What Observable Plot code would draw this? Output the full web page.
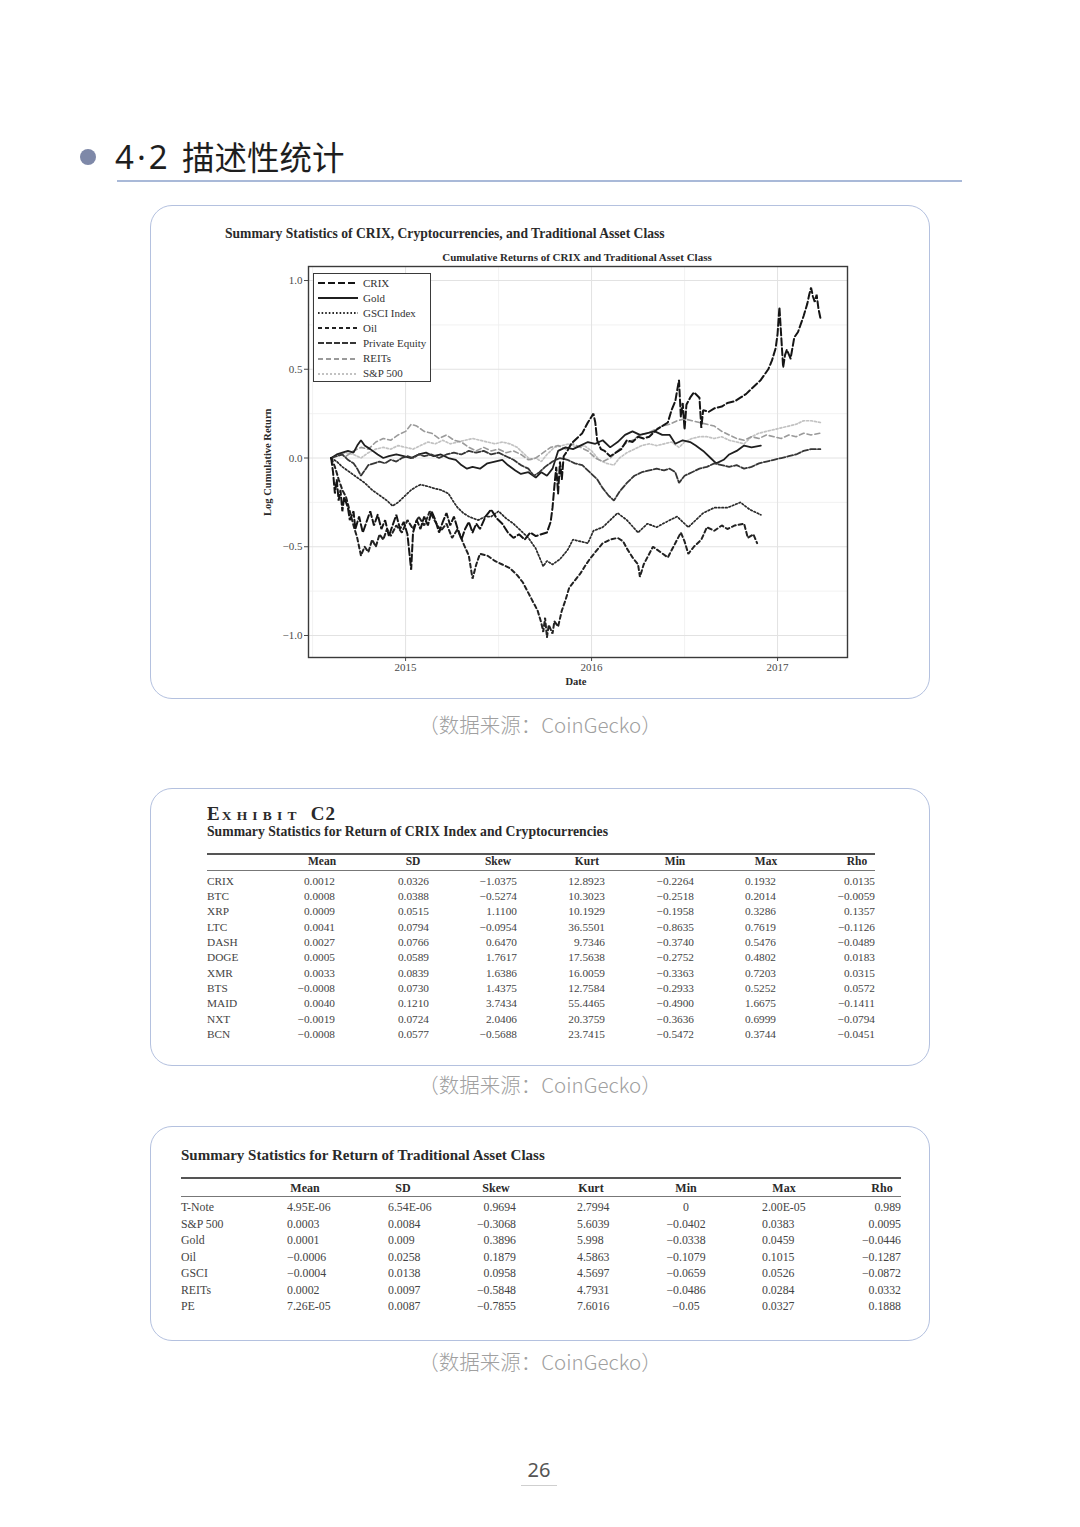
<!DOCTYPE html>
<html><head><meta charset="utf-8">
<script src="https://cdn.jsdelivr.net/npm/d3@7"></script>
<script src="https://cdn.jsdelivr.net/npm/@observablehq/plot@0.6"></script>
<style>
html,body{margin:0;padding:0;background:#fff;}
#page{position:relative;width:1080px;height:1527px;overflow:hidden;background:#fff;font-family:"Liberation Serif",serif;}
.t{position:absolute;white-space:nowrap;line-height:1;}
.box{position:absolute;border:1px solid #b4c1df;border-radius:22px;box-sizing:border-box;}
.cap{position:absolute;left:0;width:1080px;text-align:center;font-family:"Noto Sans CJK SC",sans-serif;font-weight:300;font-size:20.5px;line-height:1;color:#a0a0a0;}
.rule{position:absolute;background:#555;}
</style></head>
<body><div id="page"></div>
<script>
// ---------------- chart data (decimal year, log cumulative return) ----------------
const crix = [[2014.60,0.00],[2014.61,-0.08],[2014.62,-0.20],[2014.63,-0.12],[2014.64,-0.24],[2014.65,-0.18],[2014.66,-0.30],[2014.67,-0.22],[2014.69,-0.28],[2014.70,-0.35],[2014.72,-0.30],[2014.73,-0.40],[2014.75,-0.33],[2014.77,-0.42],[2014.79,-0.36],[2014.81,-0.30],[2014.83,-0.38],[2014.85,-0.32],[2014.87,-0.40],[2014.89,-0.35],[2014.91,-0.44],[2014.93,-0.38],[2014.95,-0.32],[2014.97,-0.40],[2014.99,-0.36],[2015.01,-0.43],[2015.03,-0.63],[2015.04,-0.42],[2015.06,-0.35],[2015.08,-0.40],[2015.10,-0.33],[2015.12,-0.38],[2015.14,-0.30],[2015.16,-0.35],[2015.18,-0.42],[2015.20,-0.36],[2015.22,-0.31],[2015.24,-0.38],[2015.26,-0.33],[2015.28,-0.40],[2015.30,-0.46],[2015.32,-0.40],[2015.34,-0.36],[2015.36,-0.42],[2015.38,-0.37],[2015.40,-0.40],[2015.43,-0.33],[2015.46,-0.29],[2015.49,-0.34],[2015.52,-0.37],[2015.55,-0.42],[2015.58,-0.45],[2015.61,-0.43],[2015.64,-0.46],[2015.67,-0.42],[2015.70,-0.44],[2015.73,-0.43],[2015.76,-0.42],[2015.78,-0.36],[2015.79,-0.28],[2015.80,-0.16],[2015.81,-0.05],[2015.82,-0.20],[2015.83,-0.02],[2015.84,-0.12],[2015.85,0.01],[2015.87,0.04],[2015.89,0.08],[2015.92,0.11],[2015.95,0.14],[2015.98,0.20],[2016.01,0.25],[2016.02,0.20],[2016.03,0.10],[2016.05,0.05],[2016.07,0.04],[2016.10,0.01],[2016.13,0.03],[2016.16,0.05],[2016.19,0.10],[2016.22,0.09],[2016.25,0.12],[2016.28,0.11],[2016.31,0.12],[2016.35,0.16],[2016.38,0.18],[2016.41,0.20],[2016.43,0.27],[2016.45,0.32],[2016.47,0.44],[2016.48,0.23],[2016.49,0.31],[2016.50,0.16],[2016.51,0.30],[2016.53,0.34],[2016.55,0.37],[2016.58,0.34],[2016.59,0.17],[2016.60,0.27],[2016.63,0.26],[2016.66,0.28],[2016.70,0.29],[2016.73,0.31],[2016.77,0.32],[2016.80,0.34],[2016.83,0.36],[2016.85,0.38],[2016.88,0.41],[2016.91,0.44],[2016.93,0.47],[2016.95,0.50],[2016.97,0.55],[2016.99,0.62],[2017.00,0.70],[2017.01,0.85],[2017.02,0.68],[2017.03,0.51],[2017.04,0.58],[2017.05,0.61],[2017.07,0.56],[2017.09,0.68],[2017.11,0.71],[2017.12,0.74],[2017.14,0.80],[2017.16,0.87],[2017.17,0.92],[2017.18,0.96],[2017.19,0.91],[2017.20,0.88],[2017.21,0.92],[2017.22,0.84],[2017.23,0.79]];

const gold = [[2014.60,0.00],[2014.63,0.02],[2014.66,0.03],[2014.69,0.04],[2014.72,0.03],[2014.74,0.07],[2014.76,0.10],[2014.78,0.07],[2014.81,0.05],[2014.85,0.02],[2014.88,0.00],[2014.91,0.01],[2014.95,0.02],[2014.99,0.01],[2015.03,0.00],[2015.07,0.02],[2015.11,0.03],[2015.15,0.01],[2015.19,0.02],[2015.23,0.00],[2015.27,-0.01],[2015.30,-0.04],[2015.33,-0.06],[2015.36,-0.05],[2015.40,-0.06],[2015.44,-0.03],[2015.48,-0.02],[2015.52,-0.01],[2015.55,-0.04],[2015.59,-0.07],[2015.62,-0.09],[2015.66,-0.08],[2015.70,-0.11],[2015.73,-0.08],[2015.76,-0.10],[2015.79,-0.06],[2015.82,0.04],[2015.86,0.06],[2015.90,0.05],[2015.94,0.07],[2015.98,0.09],[2016.02,0.08],[2016.06,0.10],[2016.10,0.06],[2016.14,0.09],[2016.18,0.13],[2016.22,0.15],[2016.26,0.13],[2016.30,0.14],[2016.34,0.15],[2016.38,0.13],[2016.42,0.13],[2016.45,0.08],[2016.49,0.10],[2016.53,0.09],[2016.56,0.07],[2016.60,0.04],[2016.64,0.00],[2016.67,-0.03],[2016.71,-0.01],[2016.74,0.02],[2016.78,0.04],[2016.82,0.07],[2016.86,0.06],[2016.91,0.07]];

const gsci = [[2014.60,0.00],[2014.63,-0.02],[2014.66,-0.05],[2014.70,-0.08],[2014.74,-0.11],[2014.78,-0.14],[2014.82,-0.18],[2014.86,-0.21],[2014.90,-0.24],[2014.93,-0.27],[2014.96,-0.25],[2015.00,-0.21],[2015.03,-0.18],[2015.06,-0.16],[2015.08,-0.15],[2015.12,-0.16],[2015.15,-0.17],[2015.19,-0.18],[2015.23,-0.20],[2015.26,-0.25],[2015.28,-0.28],[2015.31,-0.31],[2015.34,-0.33],[2015.39,-0.35],[2015.43,-0.33],[2015.46,-0.33],[2015.50,-0.30],[2015.54,-0.34],[2015.58,-0.37],[2015.62,-0.41],[2015.66,-0.45],[2015.70,-0.51],[2015.74,-0.61],[2015.76,-0.58],[2015.79,-0.60],[2015.83,-0.57],[2015.87,-0.52],[2015.90,-0.46],[2015.94,-0.47],[2015.98,-0.48],[2016.01,-0.41],[2016.06,-0.39],[2016.10,-0.35],[2016.14,-0.31],[2016.19,-0.35],[2016.25,-0.42],[2016.30,-0.37],[2016.35,-0.39],[2016.42,-0.35],[2016.46,-0.33],[2016.52,-0.39],[2016.56,-0.35],[2016.60,-0.31],[2016.66,-0.28],[2016.73,-0.28],[2016.80,-0.25],[2016.85,-0.29],[2016.91,-0.32]];

const oil = [[2014.60,0.00],[2014.62,-0.05],[2014.64,-0.12],[2014.66,-0.18],[2014.68,-0.22],[2014.70,-0.30],[2014.72,-0.38],[2014.74,-0.45],[2014.76,-0.55],[2014.78,-0.50],[2014.80,-0.53],[2014.82,-0.46],[2014.84,-0.50],[2014.86,-0.43],[2014.88,-0.46],[2014.90,-0.40],[2014.92,-0.44],[2014.95,-0.38],[2014.98,-0.42],[2015.01,-0.35],[2015.04,-0.40],[2015.07,-0.33],[2015.10,-0.38],[2015.13,-0.30],[2015.16,-0.36],[2015.19,-0.41],[2015.22,-0.37],[2015.25,-0.45],[2015.28,-0.40],[2015.31,-0.48],[2015.34,-0.55],[2015.36,-0.68],[2015.38,-0.60],[2015.40,-0.54],[2015.44,-0.55],[2015.48,-0.58],[2015.52,-0.60],[2015.56,-0.62],[2015.60,-0.66],[2015.63,-0.70],[2015.66,-0.76],[2015.69,-0.82],[2015.71,-0.86],[2015.73,-0.93],[2015.74,-0.98],[2015.75,-0.90],[2015.76,-1.01],[2015.77,-0.94],[2015.79,-0.99],[2015.80,-0.92],[2015.82,-0.95],[2015.84,-0.86],[2015.86,-0.80],[2015.88,-0.73],[2015.91,-0.69],[2015.94,-0.65],[2015.97,-0.60],[2015.99,-0.57],[2016.02,-0.53],[2016.06,-0.48],[2016.10,-0.46],[2016.14,-0.45],[2016.17,-0.47],[2016.19,-0.51],[2016.22,-0.56],[2016.25,-0.60],[2016.26,-0.67],[2016.28,-0.60],[2016.30,-0.56],[2016.33,-0.50],[2016.37,-0.53],[2016.41,-0.56],[2016.45,-0.48],[2016.48,-0.42],[2016.50,-0.47],[2016.52,-0.54],[2016.55,-0.50],[2016.59,-0.46],[2016.62,-0.39],[2016.66,-0.41],[2016.70,-0.38],[2016.73,-0.40],[2016.77,-0.38],[2016.82,-0.37],[2016.84,-0.45],[2016.87,-0.43],[2016.89,-0.48]];

const privateEquity = [[2014.60,0.00],[2014.63,0.01],[2014.66,0.02],[2014.69,-0.01],[2014.72,-0.03],[2014.74,-0.06],[2014.76,-0.10],[2014.78,-0.07],[2014.80,-0.04],[2014.83,-0.03],[2014.86,-0.02],[2014.89,-0.03],[2014.92,-0.01],[2014.95,-0.02],[2014.98,0.00],[2015.01,0.01],[2015.04,0.00],[2015.07,0.02],[2015.10,0.01],[2015.14,0.02],[2015.18,0.00],[2015.22,0.02],[2015.26,0.03],[2015.30,0.02],[2015.34,0.04],[2015.38,0.03],[2015.42,0.04],[2015.46,0.02],[2015.50,0.03],[2015.54,0.01],[2015.58,-0.01],[2015.62,-0.04],[2015.66,-0.06],[2015.69,-0.10],[2015.72,-0.08],[2015.75,-0.05],[2015.79,-0.02],[2015.83,0.00],[2015.87,-0.01],[2015.91,-0.03],[2015.95,-0.04],[2015.99,-0.08],[2016.03,-0.12],[2016.06,-0.17],[2016.09,-0.21],[2016.12,-0.24],[2016.15,-0.19],[2016.19,-0.14],[2016.23,-0.10],[2016.27,-0.08],[2016.31,-0.07],[2016.35,-0.06],[2016.39,-0.07],[2016.42,-0.06],[2016.45,-0.08],[2016.47,-0.14],[2016.50,-0.10],[2016.54,-0.08],[2016.58,-0.06],[2016.62,-0.05],[2016.66,-0.03],[2016.70,-0.04],[2016.74,-0.05],[2016.78,-0.04],[2016.82,-0.06],[2016.86,-0.05],[2016.90,-0.03],[2016.94,-0.02],[2016.98,-0.01],[2017.02,0.00],[2017.06,0.01],[2017.10,0.02],[2017.14,0.04],[2017.18,0.05],[2017.23,0.05]];

const reits = [[2014.60,0.00],[2014.64,0.02],[2014.68,0.01],[2014.72,0.04],[2014.76,0.06],[2014.80,0.05],[2014.84,0.09],[2014.88,0.11],[2014.92,0.10],[2014.96,0.13],[2015.00,0.15],[2015.03,0.19],[2015.06,0.18],[2015.10,0.15],[2015.14,0.14],[2015.18,0.11],[2015.22,0.13],[2015.26,0.10],[2015.30,0.09],[2015.34,0.06],[2015.38,0.04],[2015.42,0.06],[2015.46,0.04],[2015.50,0.05],[2015.54,0.03],[2015.58,0.04],[2015.62,0.02],[2015.66,-0.01],[2015.70,0.00],[2015.74,0.03],[2015.78,0.06],[2015.82,0.07],[2015.86,0.05],[2015.90,0.08],[2015.94,0.06],[2015.98,0.04],[2016.02,0.00],[2016.06,-0.02],[2016.10,0.00],[2016.14,0.04],[2016.18,0.08],[2016.22,0.10],[2016.26,0.13],[2016.30,0.14],[2016.34,0.16],[2016.38,0.18],[2016.42,0.19],[2016.46,0.21],[2016.50,0.22],[2016.54,0.21],[2016.58,0.20],[2016.62,0.19],[2016.66,0.18],[2016.70,0.15],[2016.74,0.13],[2016.78,0.11],[2016.82,0.10],[2016.86,0.12],[2016.90,0.11],[2016.94,0.13],[2016.98,0.12],[2017.02,0.11],[2017.06,0.13],[2017.10,0.12],[2017.14,0.14],[2017.18,0.13],[2017.23,0.14]];

const sp500 = [[2014.60,0.00],[2014.64,0.02],[2014.68,0.03],[2014.72,0.02],[2014.76,0.00],[2014.80,0.03],[2014.84,0.05],[2014.88,0.06],[2014.92,0.05],[2014.96,0.07],[2015.00,0.06],[2015.04,0.05],[2015.08,0.07],[2015.12,0.09],[2015.16,0.08],[2015.20,0.10],[2015.24,0.08],[2015.28,0.09],[2015.32,0.10],[2015.36,0.11],[2015.40,0.10],[2015.44,0.09],[2015.48,0.08],[2015.52,0.09],[2015.56,0.08],[2015.60,0.06],[2015.64,0.02],[2015.67,-0.01],[2015.70,0.00],[2015.73,-0.02],[2015.76,0.02],[2015.80,0.06],[2015.84,0.07],[2015.88,0.08],[2015.92,0.06],[2015.96,0.07],[2016.00,0.04],[2016.04,-0.01],[2016.08,-0.03],[2016.12,-0.04],[2016.15,0.00],[2016.19,0.03],[2016.23,0.05],[2016.27,0.07],[2016.31,0.08],[2016.35,0.07],[2016.39,0.08],[2016.43,0.09],[2016.47,0.06],[2016.50,0.09],[2016.54,0.11],[2016.58,0.12],[2016.62,0.12],[2016.66,0.11],[2016.70,0.12],[2016.74,0.10],[2016.78,0.09],[2016.82,0.08],[2016.86,0.12],[2016.90,0.14],[2016.94,0.15],[2016.98,0.16],[2017.02,0.17],[2017.06,0.18],[2017.10,0.19],[2017.14,0.21],[2017.18,0.21],[2017.23,0.20]];

const seriesNames = ["CRIX","Gold","GSCI Index","Oil","Private Equity","REITs","S&P 500"];
const seriesData = [crix, gold, gsci, oil, privateEquity, reits, sp500];
const xTicks = [2015, 2016, 2017];
const xMinor = [2014.5, 2015.5, 2016.5];
const yTicks = [-1, -0.5, 0, 0.5, 1];
const yMinor = [-0.75, -0.25, 0.25, 0.75];

// ---------------- table data ----------------
const statCols = ["Mean","SD","Skew","Kurt","Min","Max","Rho"];
const cryptoNames = ["CRIX","BTC","XRP","LTC","DASH","DOGE","XMR","BTS","MAID","NXT","BCN"];
const cryptoRows = [
 ["0.0012","0.0326","\u22121.0375","12.8923","\u22120.2264","0.1932","0.0135"],
 ["0.0008","0.0388","\u22120.5274","10.3023","\u22120.2518","0.2014","\u22120.0059"],
 ["0.0009","0.0515","1.1100","10.1929","\u22120.1958","0.3286","0.1357"],
 ["0.0041","0.0794","\u22120.0954","36.5501","\u22120.8635","0.7619","\u22120.1126"],
 ["0.0027","0.0766","0.6470","9.7346","\u22120.3740","0.5476","\u22120.0489"],
 ["0.0005","0.0589","1.7617","17.5638","\u22120.2752","0.4802","0.0183"],
 ["0.0033","0.0839","1.6386","16.0059","\u22120.3363","0.7203","0.0315"],
 ["\u22120.0008","0.0730","1.4375","12.7584","\u22120.2933","0.5252","0.0572"],
 ["0.0040","0.1210","3.7434","55.4465","\u22120.4900","1.6675","\u22120.1411"],
 ["\u22120.0019","0.0724","2.0406","20.3759","\u22120.3636","0.6999","\u22120.0794"],
 ["\u22120.0008","0.0577","\u22120.5688","23.7415","\u22120.5472","0.3744","\u22120.0451"]
];
const assetNames = ["T-Note","S&P 500","Gold","Oil","GSCI","REITs","PE"];
const assetRows = [
 ["4.95E-06","6.54E-06","0.9694","2.7994","0","2.00E-05","0.989"],
 ["0.0003","0.0084","\u22120.3068","5.6039","\u22120.0402","0.0383","0.0095"],
 ["0.0001","0.009","0.3896","5.998","\u22120.0338","0.0459","\u22120.0446"],
 ["\u22120.0006","0.0258","0.1879","4.5863","\u22120.1079","0.1015","\u22120.1287"],
 ["\u22120.0004","0.0138","0.0958","4.5697","\u22120.0659","0.0526","\u22120.0872"],
 ["0.0002","0.0097","\u22120.5848","4.7931","\u22120.0486","0.0284","0.0332"],
 ["7.26E-05","0.0087","\u22120.7855","7.6016","\u22120.05","0.0327","0.1888"]
];

// ---------------- helpers ----------------
const page = document.getElementById("page");
function txt(s, x, y, o = {}) {
  const d = document.createElement("div");
  d.className = "t";
  if (o.html) d.innerHTML = s; else d.textContent = s;
  const size = o.size || 11;
  d.style.fontSize = size + "px";
  d.style.left = x + "px";
  d.style.top = (y - size * 0.5) + "px";
  if (o.family) d.style.fontFamily = o.family;
  if (o.weight) d.style.fontWeight = o.weight;
  d.style.color = o.color || "#333";
  if (o.ls) d.style.letterSpacing = o.ls;
  const a = o.anchor || "start";
  if (a === "middle") d.style.transform = "translateX(-50%)";
  if (a === "end") d.style.transform = "translateX(-100%)";
  page.appendChild(d);
  return d;
}
function box(x1, y1, x2, y2) {
  const d = document.createElement("div");
  d.className = "box";
  Object.assign(d.style, {left: x1 + "px", top: y1 + "px", width: (x2 - x1) + "px", height: (y2 - y1) + "px"});
  page.appendChild(d);
}
function rule(x1, x2, y, h, c) {
  const d = document.createElement("div");
  d.className = "rule";
  Object.assign(d.style, {left: x1 + "px", top: y + "px", width: (x2 - x1) + "px", height: h + "px", background: c || "#555"});
  page.appendChild(d);
}
function caption(y) {
  const d = document.createElement("div");
  d.className = "cap";
  d.textContent = "（数据来源：CoinGecko）";
  d.style.top = (y - 10) + "px";
  page.appendChild(d);
}

// ---------------- header ----------------
const dot = document.createElement("div");
Object.assign(dot.style, {position: "absolute", left: "80px", top: "149px", width: "16px", height: "16px", borderRadius: "50%", background: "#7e88a8"});
page.appendChild(dot);
txt("4·2", 115, 156, {size: 33, family: '"Noto Sans", sans-serif', color: "#1e1e1e", ls: "3px"});
txt("描述性统计", 182, 156, {size: 32.5, family: '"Noto Sans CJK SC", sans-serif', color: "#1e1e1e"});
rule(117, 962, 180, 2, "#a9b9d8");

// ---------------- box 1: chart ----------------
box(150, 205, 930, 699);
txt("Summary Statistics of CRIX, Cryptocurrencies, and Traditional Asset Class", 225, 234, {size: 13.6, weight: "bold", color: "#2a2a2a"});
txt("Cumulative Returns of CRIX and Traditional Asset Class", 577, 257, {size: 11, weight: "bold", color: "#2a2a2a", anchor: "middle"});

const styles = [
  {stroke: "#151515", dash: "7,3", w: 2.0},
  {stroke: "#1f1f1f", dash: null, w: 1.8},
  {stroke: "#2a2a2a", dash: "1.6,2", w: 1.7},
  {stroke: "#222222", dash: "4,3", w: 2.0},
  {stroke: "#363636", dash: "6,2", w: 1.8},
  {stroke: "#9a9a9a", dash: "5,3", w: 1.6},
  {stroke: "#c2c2c2", dash: "2,2", w: 1.7}
];
const drawOrder = [6, 5, 1, 4, 2, 3, 0];

const marks = [
  Plot.ruleX(xMinor, {stroke: "#efefef", strokeWidth: 0.8}),
  Plot.ruleY(yMinor, {stroke: "#efefef", strokeWidth: 0.8}),
  Plot.ruleX(xTicks, {stroke: "#e2e2e2", strokeWidth: 1}),
  Plot.ruleY(yTicks, {stroke: "#e2e2e2", strokeWidth: 1})
];
for (const i of drawOrder) {
  const data = seriesData[i].map(([t, v]) => ({t, v}));
  marks.push(Plot.line(data, {x: "t", y: "v", stroke: styles[i].stroke, strokeWidth: styles[i].w, strokeDasharray: styles[i].dash || undefined, strokeLinejoin: "miter"}));
}
marks.push(Plot.frame({stroke: "#3a3a3a", strokeWidth: 1.4}));

const chart = Plot.plot({
  width: 640, height: 445,
  marginLeft: 88, marginRight: 13, marginTop: 21, marginBottom: 33,
  x: {domain: [2014.478, 2017.376], ticks: xTicks, tickFormat: d => String(d), tickSize: 4, tickPadding: 2, label: null},
  y: {domain: [-1.124, 1.079], ticks: yTicks, tickFormat: d3.format(".1f"), tickSize: 4, tickPadding: 2, label: null},
  style: {fontFamily: "Liberation Serif, serif", fontSize: "11px", color: "#4a4a4a", background: "transparent"},
  marks
});
chart.style.position = "absolute";
chart.style.left = "220px";
chart.style.top = "245px";
page.appendChild(chart);

// axis titles
const yt = txt("Log Cumulative Return", 268, 462, {size: 10.5, weight: "bold", color: "#2a2a2a"});
yt.style.transform = "translate(-50%, 0) rotate(-90deg)";
yt.style.transformOrigin = "50% 50%";
txt("Date", 576, 682, {size: 10.5, weight: "bold", color: "#2a2a2a", anchor: "middle"});

// legend
const lg = document.createElement("div");
Object.assign(lg.style, {position: "absolute", left: "313px", top: "273px", width: "118px", height: "109px", border: "1.3px solid #3a3a3a", background: "#fff", boxSizing: "border-box"});
page.appendChild(lg);
const ns = "http://www.w3.org/2000/svg";
seriesNames.forEach((name, i) => {
  const yc = 283 + i * 15.1;
  const s = document.createElementNS(ns, "svg");
  s.setAttribute("width", 42); s.setAttribute("height", 6);
  Object.assign(s.style, {position: "absolute", left: "317px", top: (yc - 3) + "px"});
  const l = document.createElementNS(ns, "line");
  l.setAttribute("x1", 1); l.setAttribute("x2", 41); l.setAttribute("y1", 3); l.setAttribute("y2", 3);
  l.setAttribute("stroke", styles[i].stroke); l.setAttribute("stroke-width", styles[i].w + 0.2);
  if (styles[i].dash) l.setAttribute("stroke-dasharray", styles[i].dash);
  s.appendChild(l);
  page.appendChild(s);
  txt(name, 363, yc, {size: 11, color: "#333"});
});

caption(724);

// ---------------- box 2: crypto table ----------------
box(150, 788, 930, 1066);
txt('<span style="font-size:19px">E</span><span style="font-size:13.5px;letter-spacing:5.2px;margin-left:2px">XHIBIT</span><span style="font-size:19px;margin-left:9px;letter-spacing:1px">C2</span>', 207, 813, {size: 19, weight: "bold", color: "#2a2a2a", html: true});
txt("Summary Statistics for Return of CRIX Index and Cryptocurrencies", 207, 832, {size: 13.7, weight: "bold", color: "#2a2a2a"});
rule(207, 875, 853, 1.6, "#555");
rule(207, 875, 869.5, 1, "#777");
const c2Head = [322, 413, 498, 587, 675, 766, 857];
const c2Right = [335, 429, 517, 605, 694, 776, 875];
statCols.forEach((c, j) => txt(c, c2Head[j], 862, {size: 11.5, weight: "bold", color: "#2a2a2a", anchor: "middle"}));
cryptoNames.forEach((n, i) => {
  const y = 881.5 + i * 15.3;
  txt(n, 207, y, {size: 11.3, color: "#444"});
  cryptoRows[i].forEach((v, j) => txt(v, c2Right[j], y, {size: 11.3, color: "#444", anchor: "end"}));
});
caption(1084);

// ---------------- box 3: traditional asset table ----------------
box(150, 1126, 930, 1341);
txt("Summary Statistics for Return of Traditional Asset Class", 181, 1155, {size: 15, weight: "bold", color: "#2a2a2a"});
rule(181, 901, 1177, 1.6, "#555");
rule(181, 901, 1195.5, 1, "#777");
const c3Head = [305, 403, 496, 591, 686, 784, 882];
const c3Pos = [[287, "start"], [388, "start"], [516, "end"], [577, "start"], [686, "middle"], [762, "start"], [901, "end"]];
statCols.forEach((c, j) => txt(c, c3Head[j], 1188, {size: 12, weight: "bold", color: "#2a2a2a", anchor: "middle"}));
assetNames.forEach((n, i) => {
  const y = 1208 + i * 16.5;
  txt(n, 181, y, {size: 11.8, color: "#444"});
  assetRows[i].forEach((v, j) => txt(v, c3Pos[j][0], y, {size: 11.8, color: "#444", anchor: c3Pos[j][1]}));
});
caption(1361);

// ---------------- page number ----------------
txt("26", 539, 1470, {size: 20, family: '"Noto Sans", sans-serif', color: "#555", anchor: "middle"});
rule(521, 557, 1485, 1, "#cfcfcf");
</script>
</body></html>
